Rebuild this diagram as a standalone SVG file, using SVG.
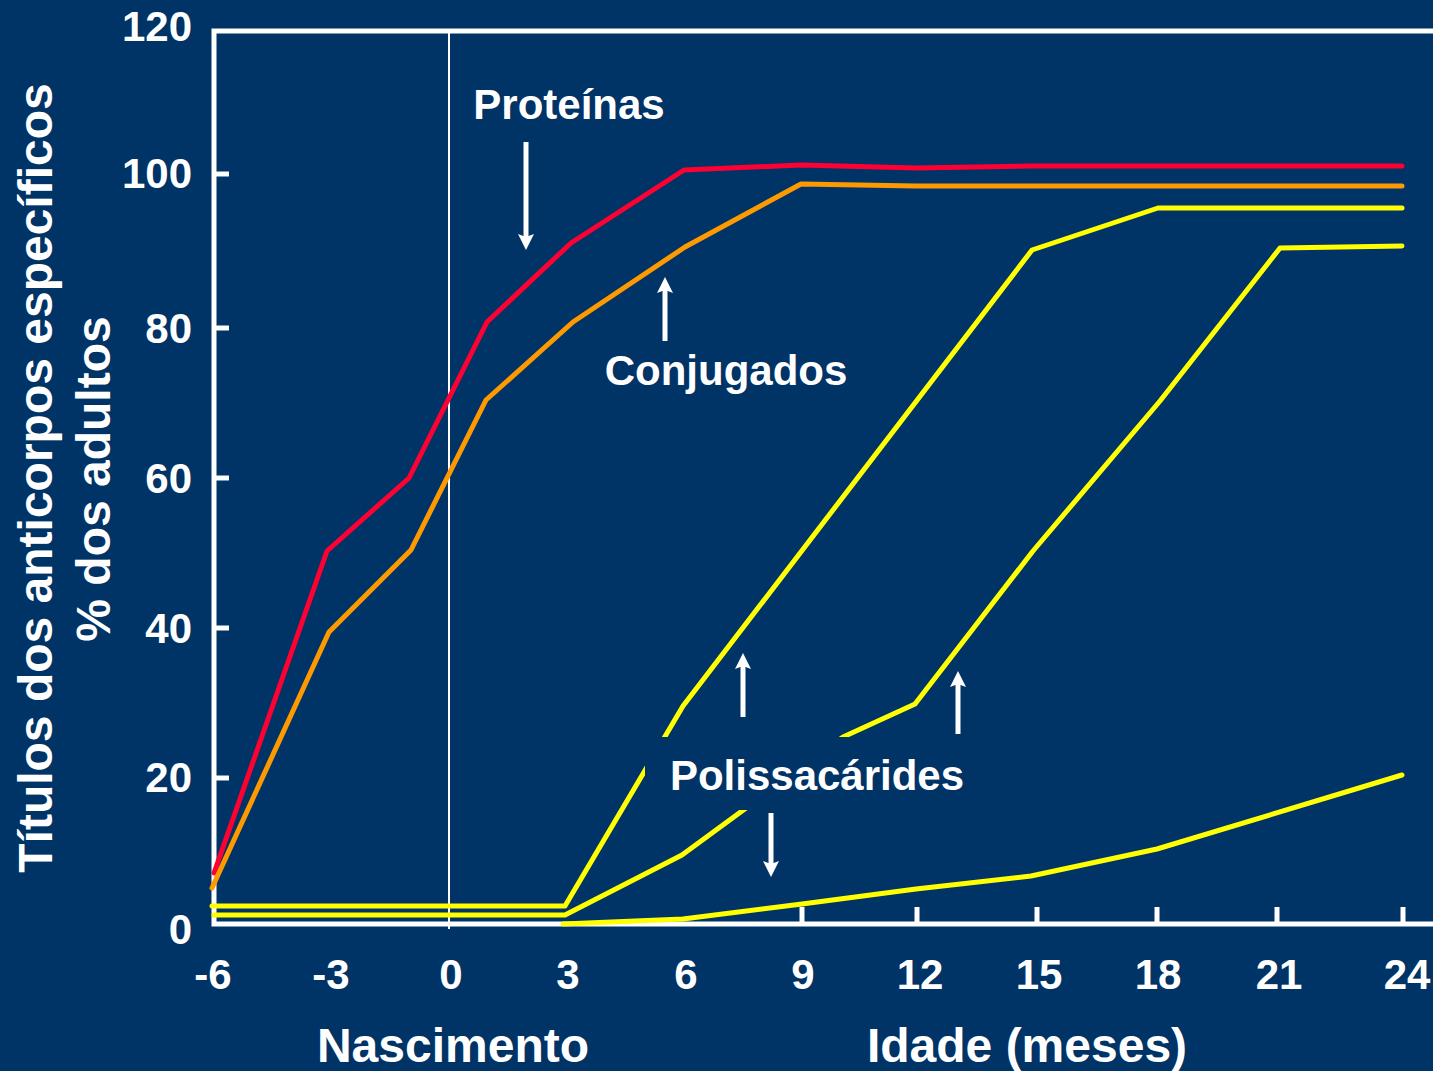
<svg xmlns="http://www.w3.org/2000/svg" width="1433" height="1071" viewBox="0 0 1433 1071">
<style>
.bg{fill:#003366}
.axis{fill:none;stroke:#ffffff;stroke-width:5;stroke-linejoin:miter}
.tick{stroke:#ffffff;stroke-width:5}
.birth{stroke:#ffffff;stroke-width:2}
.curve{fill:none;stroke-width:5;stroke-linejoin:round;stroke-linecap:round}
.red{stroke:#ff0033}
.orange{stroke:#ff9900}
.yellow{stroke:#ffff00}
.t{font-family:"Liberation Sans",Arial,sans-serif;font-weight:bold;fill:#ffffff}
.ylab{font-size:42px;text-anchor:end}
.xlab{font-size:42px;text-anchor:middle}
.title{font-size:48px;text-anchor:middle}
.lbl{font-size:42px;text-anchor:middle}
.arrow{stroke:#ffffff;stroke-width:5;marker-end:url(#ah)}
</style>
<defs>
<marker id="ah" markerUnits="userSpaceOnUse" viewBox="0 0 16 16" markerWidth="16" markerHeight="16" refX="3" refY="8" orient="auto">
<path d="M0,0 L16,8 L0,16 L3,8 z" fill="#ffffff"/>
</marker>
</defs>
<rect class="bg" x="0" y="0" width="1433" height="1071"/>

<g id="axes">
<path class="axis" d="M1433,31 H214 V924 H1433"/>
<line class="birth" x1="449" y1="31" x2="449" y2="929"/>
<g id="yticks">
<line class="tick" x1="216" y1="174" x2="229" y2="174"/>
<line class="tick" x1="216" y1="328" x2="229" y2="328"/>
<line class="tick" x1="216" y1="478" x2="229" y2="478"/>
<line class="tick" x1="216" y1="628" x2="229" y2="628"/>
<line class="tick" x1="216" y1="778" x2="229" y2="778"/>
</g>
<g id="xticks">
<line class="tick" x1="802" y1="907" x2="802" y2="923"/>
<line class="tick" x1="917" y1="907" x2="917" y2="923"/>
<line class="tick" x1="1037" y1="907" x2="1037" y2="923"/>
<line class="tick" x1="1157" y1="907" x2="1157" y2="923"/>
<line class="tick" x1="1277" y1="907" x2="1277" y2="923"/>
<line class="tick" x1="1403" y1="907" x2="1403" y2="923"/>
</g>
<g id="ylabels" class="t ylab">
<text x="192" y="41">120</text>
<text x="192" y="188">100</text>
<text x="192" y="343">80</text>
<text x="192" y="493">60</text>
<text x="192" y="643">40</text>
<text x="192" y="792">20</text>
<text x="192" y="944">0</text>
</g>
<g id="xlabels" class="t xlab">
<text x="213" y="989">-6</text>
<text x="331" y="989">-3</text>
<text x="451" y="989">0</text>
<text x="568" y="989">3</text>
<text x="686" y="989">6</text>
<text x="803" y="989">9</text>
<text x="920" y="989">12</text>
<text x="1039" y="989">15</text>
<text x="1158" y="989">18</text>
<text x="1279" y="989">21</text>
<text x="1407" y="989">24</text>
</g>
<text id="xtitle1" class="t title" x="453" y="1062">Nascimento</text>
<text id="xtitle2" class="t title" x="1027" y="1062">Idade (meses)</text>
<text id="ytitle1" class="t title" transform="translate(52,478) rotate(-90)">Títulos dos anticorpos específicos</text>
<text id="ytitle2" class="t title" transform="translate(110,479) rotate(-90)">% dos adultos</text>
</g>

<g id="curves">
<polyline id="proteinas" class="curve red" points="214,873 327,551 409,478 487,322 571,243 684,170 801,165 916,168 1031,166 1402,166"/>
<polyline id="conjugados" class="curve orange" points="212,888 329,632 411,550 486,400 573,322 685,247 801,184 916,186 1402,186"/>
<polyline id="polissacaridesA" class="curve yellow" points="212,906 565,906 683,706 1032,250 1158,208 1402,208"/>
<polyline id="polissacaridesB" class="curve yellow" points="214,915 565,915 682,855 843,737 915,704 1033,551 1160,401 1280,248 1402,246"/>
<polyline id="polissacaridesC" class="curve yellow" points="563,924 683,919 802,904 916,889 1031,876 1157,849 1402,775"/>
</g>

<rect id="labelmask" class="bg" x="645" y="737" width="330" height="73"/>

<g id="labels">
<text id="lbl-proteinas" class="t lbl" x="569" y="119">Proteínas</text>
<text id="lbl-conjugados" class="t lbl" x="726" y="385">Conjugados</text>
<text id="lbl-polissacarides" class="t lbl" x="817" y="790">Polissacárides</text>
</g>

<g id="connectors">
<line class="arrow" x1="526" y1="142" x2="526" y2="237"/>
<line class="arrow" x1="665" y1="341" x2="665" y2="290"/>
<line class="arrow" x1="743" y1="717" x2="743" y2="666"/>
<line class="arrow" x1="958" y1="734" x2="958" y2="684"/>
<line class="arrow" x1="771" y1="813" x2="771" y2="864"/>
</g>
</svg>
